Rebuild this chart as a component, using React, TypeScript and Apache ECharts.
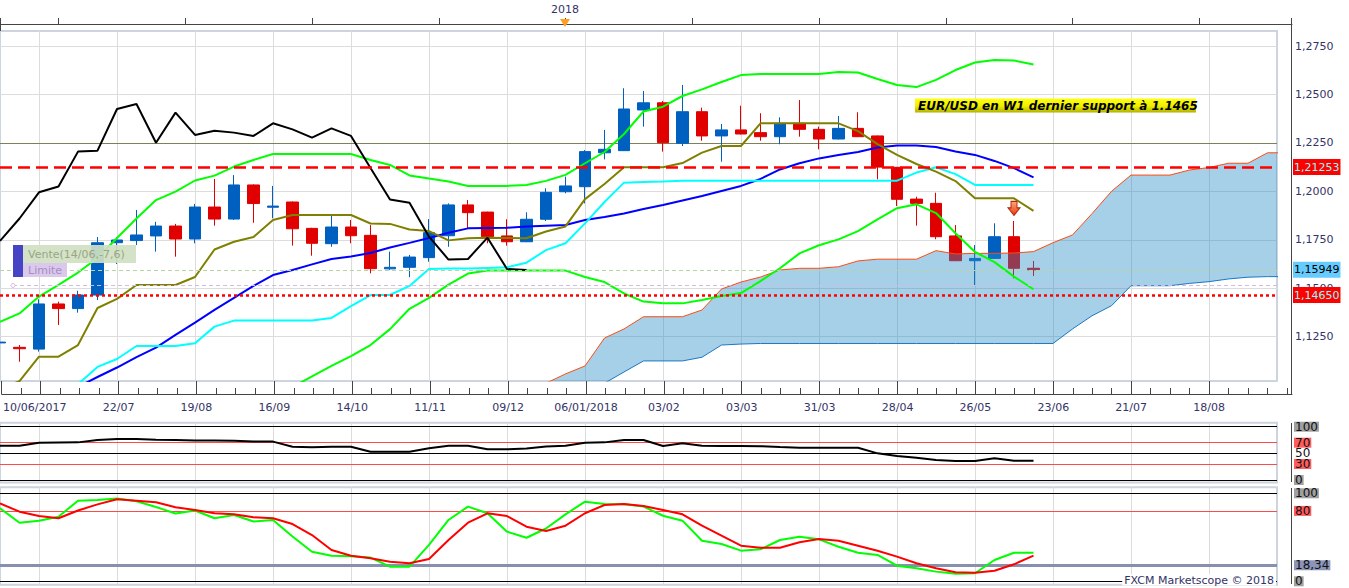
import React, { useEffect, useRef } from "react";
import * as echarts from "echarts";

const FONT = "DejaVu Sans";
const TXT = "#333366";

// week index 0 = week of 10/06/2017 ; one step = one weekly candle
const X_LABEL_WEEKS = [0, 6, 10, 14, 18, 22, 26, 30, 34, 38, 42, 46, 50, 54, 58, 62];
const X_LABELS = ["10/06/2017", "22/07", "19/08", "16/09", "14/10", "11/11", "09/12", "06/01/2018", "03/02", "03/03", "31/03", "28/04", "26/05", "23/06", "21/07", "18/08"];
const GRID_WEEKS = [2, 6, 10, 14, 18, 22, 26, 30, 34, 38, 42, 46, 50, 54, 58, 62];
const MAJOR_TICK_WEEKS = [0, 2, 6, 10, 14, 18, 22, 26, 30, 34, 38, 42, 46, 50, 54, 58, 62];
const TOP_TICK_WEEKS = [3, 9.5, 16, 22.5, 29, 35.5, 42, 48.5, 55, 61.5];
const Y_GRID = [1.125, 1.15, 1.175, 1.2, 1.25, 1.275];
const Y_OLIVE = 1.225;

const OPEN = [1.1218, 1.1195, 1.1186, 1.1419, 1.1395, 1.1465, 1.1735, 1.1746, 1.1770, 1.1821, 1.1754, 1.1919, 1.1857, 1.2033, 1.1918, 1.1945, 1.1809, 1.1730, 1.1816, 1.1773, 1.1600, 1.1608, 1.1658, 1.1771, 1.1930, 1.1893, 1.1770, 1.1740, 1.1856, 1.1998, 1.2024, 1.2199, 1.2210, 1.2420, 1.2457, 1.2248, 1.2411, 1.2286, 1.2317, 1.2303, 1.2282, 1.2351, 1.2320, 1.2270, 1.2325, 1.2286, 1.2124, 1.1960, 1.1938, 1.1770, 1.1642, 1.1654, 1.1766, 1.1603];
const CLOSE = [1.1222, 1.1188, 1.1419, 1.1395, 1.1465, 1.1735, 1.1749, 1.1775, 1.1821, 1.1754, 1.1919, 1.1857, 1.2033, 1.1937, 1.1924, 1.1807, 1.1732, 1.1816, 1.1771, 1.1601, 1.1608, 1.1661, 1.1787, 1.1930, 1.1890, 1.1766, 1.1740, 1.1856, 1.1995, 1.2028, 1.2205, 1.2217, 1.2425, 1.2457, 1.2251, 1.2411, 1.2286, 1.2317, 1.2296, 1.2282, 1.2351, 1.2320, 1.2270, 1.2325, 1.2282, 1.2125, 1.1959, 1.1938, 1.1766, 1.1642, 1.1654, 1.1766, 1.1603, 1.1595];
const LOW = [1.1212, 1.1121, 1.1173, 1.1310, 1.1374, 1.1439, 1.1625, 1.1723, 1.1689, 1.1663, 1.1732, 1.1823, 1.1852, 1.1838, 1.1861, 1.1720, 1.1668, 1.1714, 1.1732, 1.1577, 1.1594, 1.1557, 1.1637, 1.1714, 1.1809, 1.1732, 1.1720, 1.1738, 1.1847, 1.1990, 1.1938, 1.2165, 1.2208, 1.2334, 1.2205, 1.2234, 1.2261, 1.2153, 1.2294, 1.2261, 1.2243, 1.2282, 1.2217, 1.2268, 1.2280, 1.2062, 1.1924, 1.1823, 1.1753, 1.1640, 1.1517, 1.1652, 1.1551, 1.1563];
const HIGH = [1.1228, 1.1207, 1.1443, 1.1431, 1.1487, 1.1764, 1.1762, 1.1904, 1.1843, 1.1832, 1.1935, 1.2064, 1.2084, 1.2036, 1.2028, 1.1948, 1.1812, 1.1874, 1.1852, 1.1826, 1.1689, 1.1672, 1.1857, 1.1938, 1.1955, 1.1895, 1.1856, 1.1892, 1.2016, 1.2076, 1.2213, 1.2317, 1.2532, 1.2518, 1.2466, 1.2549, 1.2432, 1.2348, 1.2442, 1.2403, 1.2382, 1.2471, 1.2334, 1.2389, 1.2408, 1.2288, 1.2126, 1.1972, 1.1993, 1.1826, 1.1723, 1.1835, 1.1847, 1.1641];

const CHIKOU = [1.1744, 1.1860, 1.1995, 1.2025, 1.2205, 1.2210, 1.2425, 1.2451, 1.2251, 1.2406, 1.2291, 1.2313, 1.2303, 1.2286, 1.2351, 1.2320, 1.2277, 1.2325, 1.2286, 1.2120, 1.1958, 1.1941, 1.1766, 1.1648, 1.1651, 1.1761, 1.1599, 1.1594];
const OLIVE = [1.0980, 1.1021, 1.1147, 1.1147, 1.1207, 1.1398, 1.1445, 1.1517, 1.1517, 1.1517, 1.1558, 1.1700, 1.1740, 1.1764, 1.1852, 1.1878, 1.1878, 1.1878, 1.1878, 1.1834, 1.1832, 1.1803, 1.1795, 1.1747, 1.1758, 1.1761, 1.1759, 1.1758, 1.1793, 1.1819, 1.1960, 1.2038, 1.2124, 1.2124, 1.2124, 1.2146, 1.2200, 1.2234, 1.2234, 1.2351, 1.2351, 1.2351, 1.2351, 1.2351, 1.2311, 1.2244, 1.2188, 1.2141, 1.2102, 1.2053, 1.1964, 1.1964, 1.1964, 1.1899];
const CYAN = [1.0900, 1.0920, 1.0950, 1.0975, 1.1005, 1.1094, 1.1135, 1.1202, 1.1202, 1.1202, 1.1216, 1.1302, 1.1333, 1.1333, 1.1333, 1.1333, 1.1333, 1.1347, 1.1408, 1.1465, 1.1465, 1.1512, 1.1599, 1.1602, 1.1602, 1.1605, 1.1608, 1.1632, 1.1697, 1.1732, 1.1835, 1.1945, 1.2045, 1.2048, 1.2051, 1.2055, 1.2055, 1.2055, 1.2055, 1.2055, 1.2055, 1.2055, 1.2055, 1.2055, 1.2055, 1.2055, 1.2055, 1.2097, 1.2124, 1.2089, 1.2033, 1.2033, 1.2033, 1.2033];
const BLUE = [1.0790, 1.0840, 1.0891, 1.0941, 1.0991, 1.1042, 1.1091, 1.1145, 1.1194, 1.1259, 1.1323, 1.1388, 1.1450, 1.1512, 1.1568, 1.1594, 1.1623, 1.1651, 1.1664, 1.1682, 1.1710, 1.1734, 1.1759, 1.1786, 1.1809, 1.1811, 1.1812, 1.1819, 1.1823, 1.1826, 1.1852, 1.1868, 1.1886, 1.1909, 1.1930, 1.1953, 1.1976, 1.2002, 1.2028, 1.2064, 1.2113, 1.2145, 1.2170, 1.2188, 1.2203, 1.2226, 1.2236, 1.2236, 1.2229, 1.2206, 1.2188, 1.2157, 1.2120, 1.2072];
const BAND_UP = [1.1327, 1.1370, 1.1457, 1.1517, 1.1581, 1.1656, 1.1759, 1.1860, 1.1955, 1.1999, 1.2056, 1.2081, 1.2128, 1.2162, 1.2193, 1.2193, 1.2193, 1.2193, 1.2193, 1.2162, 1.2136, 1.2082, 1.2066, 1.2051, 1.2028, 1.2028, 1.2028, 1.2033, 1.2054, 1.2085, 1.2145, 1.2203, 1.2296, 1.2412, 1.2437, 1.2492, 1.2526, 1.2564, 1.2600, 1.2606, 1.2606, 1.2606, 1.2606, 1.2616, 1.2613, 1.2580, 1.2549, 1.2538, 1.2575, 1.2626, 1.2665, 1.2678, 1.2675, 1.2655];
const BAND_LO = [1.0600, 1.0610, 1.0625, 1.0640, 1.0660, 1.0680, 1.0700, 1.0720, 1.0750, 1.0780, 1.0810, 1.0840, 1.0870, 1.0900, 1.0935, 1.0990, 1.1045, 1.1099, 1.1150, 1.1207, 1.1289, 1.1394, 1.1450, 1.1519, 1.1576, 1.1591, 1.1591, 1.1591, 1.1591, 1.1591, 1.1558, 1.1532, 1.1473, 1.1431, 1.1422, 1.1422, 1.1439, 1.1460, 1.1475, 1.1537, 1.1603, 1.1680, 1.1722, 1.1752, 1.1795, 1.1855, 1.1913, 1.1933, 1.1888, 1.1784, 1.1687, 1.1635, 1.1560, 1.1495];

const KUMO_FIRST_WEEK = 27;
const SPAN_A = [1.0960, 1.1010, 1.1058, 1.1099, 1.1243, 1.1290, 1.1353, 1.1353, 1.1353, 1.1388, 1.1496, 1.1532, 1.1558, 1.1594, 1.1603, 1.1603, 1.1611, 1.1641, 1.1650, 1.1650, 1.1650, 1.1694, 1.1677, 1.1680, 1.1680, 1.1682, 1.1689, 1.1735, 1.1775, 1.1885, 1.2000, 1.2084, 1.2084, 1.2084, 1.2110, 1.2123, 1.2145, 1.2145, 1.2199, 1.2199];
const SPAN_B = [1.0880, 1.0900, 1.0930, 1.0970, 1.1010, 1.1068, 1.1125, 1.1125, 1.1125, 1.1144, 1.1207, 1.1212, 1.1215, 1.1215, 1.1215, 1.1215, 1.1215, 1.1215, 1.1215, 1.1215, 1.1215, 1.1215, 1.1215, 1.1215, 1.1215, 1.1215, 1.1215, 1.1215, 1.1290, 1.1358, 1.1410, 1.1513, 1.1513, 1.1513, 1.1525, 1.1534, 1.1548, 1.1557, 1.1560, 1.1560];

const RSI = [64.3, 64.3, 70, 70.3, 70.6, 75, 76.9, 76.9, 75.5, 75, 74, 74, 73.5, 72, 72, 62.5, 61.5, 62.5, 62.5, 53.1, 53.1, 53.1, 59.4, 64.3, 64.3, 57.5, 57.5, 59, 63, 64.3, 70, 70.6, 75, 75, 63.8, 68.8, 64.3, 64, 63.8, 63.5, 62, 60.6, 60.6, 60.6, 60.6, 50, 45, 41.8, 37.5, 35.6, 35.6, 40.6, 36.2, 36.2];
const STO_K = [83, 66.6, 68.9, 73.4, 91.6, 92.4, 94, 91, 84.5, 77, 80.5, 71.6, 75.3, 68, 69.7, 51, 33.6, 29, 28.5, 27, 16.6, 16.6, 41.3, 69.7, 84.9, 77.3, 56.4, 49.5, 60, 76, 90.5, 87.8, 87.5, 85, 74.5, 68.9, 46.1, 42.4, 34.8, 36.4, 46.9, 50.7, 47.7, 39.3, 32.5, 29.9, 17.7, 14.8, 11, 8.5, 9.1, 24.2, 32.5, 32.5];
const STO_D = [88.6, 79.1, 74.2, 71.6, 80.5, 87.4, 93.2, 91.6, 89.8, 84.1, 81, 77.3, 76.1, 72.7, 71.6, 65.1, 52.6, 35.6, 29.1, 26.1, 22.3, 20.5, 25.3, 46.9, 66.6, 77.3, 74.2, 62, 57.2, 63.2, 77.3, 86.7, 87.8, 85.6, 81, 76.1, 63.2, 51.8, 40.5, 38.2, 38.2, 44.3, 48.1, 46.1, 40.5, 34.8, 28, 20.5, 14.8, 10.2, 9.8, 12, 19.3, 29.1];

const RSI_LEVELS = [100, 70, 50, 30, 0];
const STO_LEVELS = [100, 80, 18.34, 0];
const PRICE_RESIST = 1.21253;
const PRICE_LAST = 1.15949;
const PRICE_SUPPORT = 1.1465;
const LIMIT_LEVEL = 1.1513;
const LIMIT_START_WEEK = 0.67;
const ARROW_WEEK = 52;
const ARROW_LEVEL = 1.1912;

// layout
const WEEK_PX = 19.5;
const PLOT_W = 1277;
const AXIS_X = 1292;
const X_MAX = PLOT_W / WEEK_PX;
const STRIP_MAX = AXIS_X / WEEK_PX;
const Y_MAX = 1.28274;
const Y_MIN = 1.10214;
const Y_LABEL_MIN = 1.1;
const PX_PER_UNIT = 350 / (Y_MAX - Y_MIN);

const comma = (v: number, d: number) => v.toFixed(d).replace(".", ",");

export default function App() {
  const ref = useRef<HTMLDivElement>(null);

  useEffect(() => {
    if (!ref.current) return;
    const chart = echarts.init(ref.current, null, { renderer: "svg" });

    const pts = (vals: number[]) => vals.map((v, i) => [i, v]);
    const kumoPts = (vals: number[]) => vals.map((v, i) => [KUMO_FIRST_WEEK + i, v]);
    const candles = OPEN.map((o, i) => [i, o, CLOSE[i], LOW[i], HIGH[i]]);

    const hiddenAxis = (gridIndex: number, min: number, max: number) => ({ type: "value", gridIndex, min, max, show: false, splitLine: { show: false } });
    const ml = (extra: any) => ({ silent: true, precision: 6, symbol: ["none", "none"], animation: false, label: { show: false }, emphasis: { disabled: true }, ...extra });
    const dummy = (gi: number, extra: any) => ({ type: "line", xAxisIndex: gi, yAxisIndex: gi, data: [[-10, -1000]], symbol: "none", lineStyle: { opacity: 0 }, silent: true, ...extra });
    const lineS = (data: any[], color: string, z = 4, width = 2) => ({ type: "line", xAxisIndex: 0, yAxisIndex: 0, data, symbol: "none", showSymbol: false, lineStyle: { color, width }, z, silent: true });

    const priceLabel = (bg: string, fg: string) => ({
      show: true, position: "end", distance: 16, formatter: (p: any) => comma(p.value, 5),
      backgroundColor: bg, color: fg, fontSize: 11, fontFamily: FONT, padding: [2, 1, 2, 1], lineHeight: 12,
    });
    const levelLabel = (text: string, bg: string | undefined) => ({
      show: true, position: "end", distance: 17, formatter: text,
      backgroundColor: bg, color: "#111", fontSize: 12, fontFamily: FONT, padding: [0, 1, 0, 1], lineHeight: 10,
    });
    const rsiStyle: Record<number, [string, string | undefined]> = { 100: ["#000", "#a0a0a0"], 70: ["#ff4a4a", "#ff5c5c"], 50: ["#000", undefined], 30: ["#ff4a4a", "#ff5c5c"], 0: ["#000", "#a0a0a0"] };
    const stoStyle: Record<string, [string, string | undefined, number]> = { "100": ["#000", "#a0a0a0", 1], "80": ["#ff4a4a", "#ff5c5c", 1], "18.34": ["#8890b0", "#8c94b8", 3], "0": ["#000", "#a0a0a0", 1] };

    const vGrid = GRID_WEEKS.map((w) => ({ xAxis: w }));

    const option: any = {
      animation: false,
      grid: [
        { left: 0, top: 31, width: PLOT_W, height: 350, show: true, borderColor: "#ccd4e0", borderWidth: 2, backgroundColor: "transparent" },
        { left: 0, top: 31, width: PLOT_W, height: (Y_MAX - Y_LABEL_MIN) * PX_PER_UNIT },
        { left: 0, top: 381, width: AXIS_X, height: 13 },
        { left: 0, top: 18, width: AXIS_X, height: 6 },
        { left: 0, top: 422.7, width: PLOT_W, height: 59.8, show: true, borderColor: "#ccd4e0", borderWidth: 2, backgroundColor: "transparent" },
        { left: 0, top: 426.7, width: PLOT_W, height: 53.3 },
        { left: 0, top: 487.3, width: PLOT_W, height: 97.5, show: true, borderColor: "#ccd4e0", borderWidth: 2, backgroundColor: "transparent" },
        { left: 0, top: 493.3, width: PLOT_W, height: 88 },
      ],
      xAxis: [
        hiddenAxis(0, 0, X_MAX),
        hiddenAxis(1, 0, X_MAX),
        {
          type: "value", gridIndex: 2, min: 0, max: STRIP_MAX, interval: 1, position: "bottom",
          axisLine: { show: true, lineStyle: { color: "#444", width: 1 } },
          axisTick: { show: true, inside: true, length: 6, lineStyle: { color: "#444" } },
          splitLine: { show: false },
          axisLabel: {
            show: true, margin: 8, fontSize: 11, fontFamily: FONT, color: TXT, showMaxLabel: false,
            formatter: (v: number) => {
              const r = Math.round(v);
              if (Math.abs(v - r) > 1e-6) return "";
              const k = X_LABEL_WEEKS.indexOf(r);
              if (k < 0) return "";
              return k === 0 ? `{first|${X_LABELS[0]}}` : X_LABELS[k];
            },
            rich: { first: { padding: [0, 0, 0, 66], fontSize: 11, fontFamily: FONT, color: TXT } },
          },
        },
        {
          type: "value", gridIndex: 3, min: 0, max: STRIP_MAX, position: "top",
          axisLine: { show: true, lineStyle: { color: "#444", width: 1 } },
          axisTick: { show: false }, axisLabel: { show: false }, splitLine: { show: false },
        },
        hiddenAxis(4, 0, X_MAX),
        hiddenAxis(5, 0, X_MAX),
        hiddenAxis(6, 0, X_MAX),
        hiddenAxis(7, 0, X_MAX),
      ],
      yAxis: [
        hiddenAxis(0, Y_MIN, Y_MAX),
        {
          type: "value", gridIndex: 1, min: Y_LABEL_MIN, max: Y_MAX, interval: 0.025, position: "right", offset: 15,
          axisLine: { show: false },
          axisTick: { show: true, inside: true, length: 15, lineStyle: { color: "#444" } },
          minorTick: { show: true, splitNumber: 10, length: 5, lineStyle: { color: "#444" } },
          splitLine: { show: false }, minorSplitLine: { show: false },
          axisLabel: { show: true, margin: 3, fontSize: 11, fontFamily: FONT, color: TXT, showMinLabel: false, showMaxLabel: false, formatter: (v: number) => comma(v, 4) },
        },
        hiddenAxis(2, 0, 1),
        hiddenAxis(3, 0, 1),
        hiddenAxis(4, 0, 1),
        {
          type: "value", gridIndex: 5, min: 0, max: 100, interval: 10, position: "right", offset: 15,
          axisLine: { show: false }, axisTick: { show: true, inside: true, length: 4, lineStyle: { color: "#444" } },
          axisLabel: { show: false }, splitLine: { show: false },
        },
        hiddenAxis(6, 0, 1),
        {
          type: "value", gridIndex: 7, min: 0, max: 100, interval: 10, position: "right", offset: 15,
          axisLine: { show: false }, axisTick: { show: true, inside: true, length: 4, lineStyle: { color: "#444" } },
          axisLabel: { show: false }, splitLine: { show: false },
        },
      ],
      series: [
        // grid lines (main)
        dummy(0, {
          z: 1,
          markLine: ml({
            z: 1,
            lineStyle: { color: "#dcdcdc", width: 1, type: "solid" },
            data: [...vGrid, ...Y_GRID.map((v) => ({ yAxis: v })), { yAxis: Y_OLIVE, lineStyle: { color: "#7f7f5a", width: 1, type: "solid" } }],
          }),
        }),
        // candles
        {
          type: "candlestick", xAxisIndex: 0, yAxisIndex: 0, data: candles, barWidth: 12, z: 2, silent: true,
          itemStyle: { color: "#0060c0", color0: "#e00000", borderColor: "#0060c0", borderColor0: "#e00000", borderWidth: 1 },
        },
        // cloud fill between span A and span B, drawn over the candles
        {
          type: "custom", xAxisIndex: 0, yAxisIndex: 0, z: 3, silent: true,
          data: SPAN_A.map((a, i) => [KUMO_FIRST_WEEK + i, a, SPAN_B[i]]),
          encode: { x: 0, y: [1, 2] },
          renderItem: (params: any, api: any) => {
            if (params.dataIndex !== 0) return null;
            const top = SPAN_A.map((a, i) => api.coord([KUMO_FIRST_WEEK + i, a]));
            const bot = SPAN_B.map((b, i) => api.coord([KUMO_FIRST_WEEK + i, b])).reverse();
            const cs = params.coordSys;
            return {
              type: "polygon",
              shape: { points: [...top, ...bot] },
              style: { fill: "rgba(39,141,200,0.41)", stroke: "none" },
              clipPath: { type: "rect", shape: { x: cs.x, y: cs.y, width: cs.width, height: cs.height } },
            };
          },
        },
        lineS(kumoPts(SPAN_B), "#1a78c2", 4, 1),
        lineS(kumoPts(SPAN_A), "#ff4a10", 4, 1),
        // indicator lines
        lineS(pts(BAND_LO), "#00ff00"),
        lineS(pts(BAND_UP), "#00ff00"),
        lineS(pts(BLUE), "#0000ff"),
        lineS(pts(CYAN), "#00ffff"),
        lineS(pts(OLIVE), "#808000"),
        lineS(pts(CHIKOU), "#000000"),
        // price lines + labels + arrow
        dummy(0, {
          z: 5,
          markLine: ml({
            z: 6,
            data: [
              [{ coord: [LIMIT_START_WEEK, LIMIT_LEVEL], lineStyle: { color: "#d6b8e2", width: 1, type: [4, 3] }, label: { show: false } }, { coord: [X_MAX, LIMIT_LEVEL] }],
              { yAxis: PRICE_LAST, lineStyle: { color: "#b8d4a4", width: 1, type: [4, 3] }, label: priceLabel("#66ccff", "#000") },
              { yAxis: PRICE_RESIST, lineStyle: { color: "#ff0000", width: 2.5, type: [12, 6] }, label: priceLabel("#ff0000", "#80ffff") },
              { yAxis: PRICE_SUPPORT, lineStyle: { color: "#ff0000", width: 2.5, type: [3, 3] }, label: priceLabel("#ff0000", "#80ffff") },
            ],
          }),
          markPoint: {
            silent: true, animation: false,
            symbol: "path://M3,0 L9,0 L9,6 L12,6 L6,13 L0,6 L3,6 Z", symbolSize: [12, 14],
            label: { show: false },
            itemStyle: {
              color: new echarts.graphic.LinearGradient(0, 0, 0, 1, [{ offset: 0, color: "#ffa878" }, { offset: 1, color: "#e83a10" }]),
              borderColor: "#b02808", borderWidth: 1,
            },
            data: [{ coord: [ARROW_WEEK, ARROW_LEVEL] }],
          },
        }),
        // x strip major ticks
        dummy(2, { z: 5, markLine: ml({ lineStyle: { color: "#444", width: 1, type: "solid" }, data: MAJOR_TICK_WEEKS.map((w) => ({ xAxis: w })) }) }),
        // top strip ticks
        dummy(3, { z: 5, markLine: ml({ lineStyle: { color: "#444", width: 1, type: "solid" }, data: TOP_TICK_WEEKS.map((w) => ({ xAxis: w })) }) }),
        // RSI frame grid lines
        dummy(4, { z: 1, markLine: ml({ z: 1, lineStyle: { color: "#dcdcdc", width: 1, type: "solid" }, data: vGrid }) }),
        // RSI
        {
          type: "line", xAxisIndex: 5, yAxisIndex: 5, data: pts(RSI), symbol: "none", lineStyle: { color: "#000", width: 2 }, z: 4, silent: true,
          markLine: ml({
            z: 3,
            data: RSI_LEVELS.map((v) => ({ yAxis: v, lineStyle: { color: rsiStyle[v][0], width: 1, type: "solid" }, label: levelLabel(String(v), rsiStyle[v][1]) })),
          }),
        },
        // Stoch frame grid lines
        dummy(6, { z: 1, markLine: ml({ z: 1, lineStyle: { color: "#dcdcdc", width: 1, type: "solid" }, data: vGrid }) }),
        // Stochastic
        {
          type: "line", xAxisIndex: 7, yAxisIndex: 7, data: pts(STO_K), symbol: "none", lineStyle: { color: "#00ff00", width: 2 }, z: 4, silent: true,
          markLine: ml({
            z: 3,
            data: STO_LEVELS.map((v) => {
              const s = stoStyle[String(v)];
              return { yAxis: v, lineStyle: { color: s[0], width: s[2], type: "solid" }, label: levelLabel(Number.isInteger(v) ? String(v) : comma(v, 2), s[1]) };
            }),
          }),
        },
        { type: "line", xAxisIndex: 7, yAxisIndex: 7, data: pts(STO_D), symbol: "none", lineStyle: { color: "#ff0000", width: 2 }, z: 4, silent: true },
      ],
      graphic: {
        elements: [
          { type: "line", z: 50, shape: { x1: AXIS_X - 0.5, y1: 18, x2: AXIS_X - 0.5, y2: 394 }, style: { stroke: "#444", lineWidth: 1 } },
          { type: "line", z: 50, shape: { x1: AXIS_X - 0.5, y1: 423, x2: AXIS_X - 0.5, y2: 482 }, style: { stroke: "#444", lineWidth: 1 } },
          { type: "line", z: 50, shape: { x1: AXIS_X - 0.5, y1: 488, x2: AXIS_X - 0.5, y2: 584 }, style: { stroke: "#444", lineWidth: 1 } },
          { type: "line", z: 50, shape: { x1: 0.5, y1: 18, x2: 0.5, y2: 31 }, style: { stroke: "#444", lineWidth: 1 } },
          { type: "text", z: 50, x: 565, y: 9, style: { text: "2018", fill: TXT, fontSize: 11, fontFamily: FONT, align: "center", verticalAlign: "middle" } },
          { type: "polygon", z: 50, shape: { points: [[560, 19], [570, 19], [565, 27]] }, style: { fill: "#ffa020" } },
          {
            type: "rect", z: 50, shape: { x: 915, y: 98.5, width: 281, height: 14 },
            style: { fill: new echarts.graphic.LinearGradient(0, 0, 0, 1, [{ offset: 0, color: "#ffff10" }, { offset: 0.55, color: "#eeee00" }, { offset: 1, color: "#b0b000" }]) },
          },
          { type: "text", z: 51, x: 918, y: 106, style: { text: "EUR/USD en W1 dernier support à 1.1465", fill: "#000", fontSize: 12, fontWeight: "bold", fontStyle: "italic", fontFamily: FONT, align: "left", verticalAlign: "middle" } },
          { type: "rect", z: 50, shape: { x: 13, y: 245, width: 10, height: 32 }, style: { fill: "#4444c4" } },
          { type: "rect", z: 50, shape: { x: 23, y: 245, width: 113, height: 18 }, style: { fill: "rgba(208,224,194,0.92)" } },
          { type: "text", z: 51, x: 28, y: 254.5, style: { text: "Vente(14/06,-7,6)", fill: "#98a684", fontSize: 11, fontFamily: FONT, align: "left", verticalAlign: "middle" } },
          { type: "rect", z: 50, shape: { x: 23, y: 263, width: 44, height: 14 }, style: { fill: "rgba(216,198,234,0.95)" } },
          { type: "text", z: 51, x: 28, y: 270, style: { text: "Limite", fill: "#a88cc8", fontSize: 11, fontFamily: FONT, align: "left", verticalAlign: "middle" } },
          { type: "circle", z: 51, shape: { cx: 13, cy: 285.5, r: 2 }, style: { fill: "#fff", stroke: "#d6b8e2", lineWidth: 1 } },
          { type: "text", z: 52, x: 1276, y: 580, style: { text: "FXCM Marketscope © 2018", fill: TXT, fontSize: 11, fontFamily: FONT, align: "right", verticalAlign: "middle", backgroundColor: "#fff", padding: [0, 2, 0, 2] } },
        ],
      },
    };

    chart.setOption(option);
    return () => chart.dispose();
  }, []);

  return <div ref={ref} style={{ position: "absolute", left: 0, top: 0, width: 1349, height: 588, background: "#fff" }} />;
}
